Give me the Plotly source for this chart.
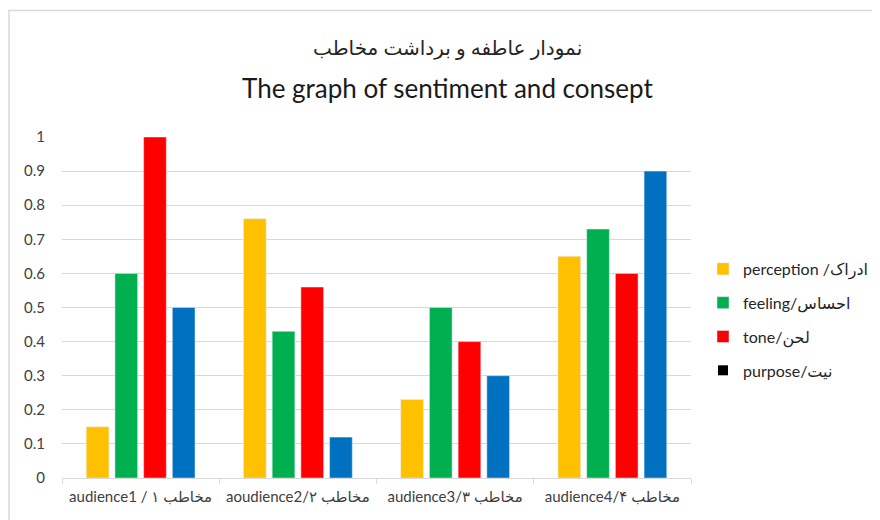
import plotly.graph_objects as go

categories = ["audience1 / مخاطب ۱", "aoudience2/مخاطب ۲", "audience3/مخاطب ۳", "audience4/مخاطب ۴"]
series_names = ["perception /ادراک", "feeling/احساس", "tone/لحن", "purpose/نیت"]
perception = [0.15, 0.76, 0.23, 0.65]
feeling = [0.60, 0.43, 0.50, 0.73]
tone = [1.00, 0.56, 0.40, 0.60]
purpose = [0.50, 0.12, 0.30, 0.90]
colors = ["#FFC000", "#00B050", "#FF0000", "#0070C0"]
y_ticks = [0, 0.1, 0.2, 0.3, 0.4, 0.5, 0.6, 0.7, 0.8, 0.9, 1]
y_tick_labels = ["0", "0.1", "0.2", "0.3", "0.4", "0.5", "0.6", "0.7", "0.8", "0.9", "1"]
title_fa = "نمودار عاطفه و برداشت مخاطب"
title_en = "The graph of sentiment and consept"

FONT = "Lato, 'DejaVu Sans', sans-serif"

# the page body has an 8px margin; work in figure pixels (page px - 8)
OFF = 8
W, H = 880 - OFF, 520 - OFF
PL, PR, PT, PB = 62 - OFF, 694 - OFF, 137 - OFF, 478 - OFF
PW, PH = PR - PL, PB - PT


def px_x(x):
    return (x - OFF - PL) / PW


def px_y(y):
    return (PB - (y - OFF)) / PH


fig = go.Figure()
vals = [perception, feeling, tone, purpose]
for i, (name, v, c) in enumerate(zip(series_names, vals, colors)):
    fig.add_trace(go.Bar(
        x=categories, y=v, name=name, marker_color=c,
        showlegend=(i < 3), legendgroup=f"g{i}", legendrank=i + 1,
    ))
# legend entry for purpose shown in black, as in the reference
fig.add_trace(go.Scatter(
    x=[None], y=[None], mode="markers", name=series_names[3],
    marker=dict(symbol="square", size=10, color="#000000"),
    legendgroup="g3", legendrank=4, showlegend=True,
))

fig.update_layout(
    width=W, height=H,
    paper_bgcolor="white", plot_bgcolor="white",
    margin=dict(l=PL, r=W - PR, t=PT, b=H - PB),
    barmode="group", bargap=0.27, bargroupgap=0.21,
    font=dict(family=FONT, color="#404040", size=15),
    legend=dict(
        xref="container", yref="container", x=(703 - OFF) / W, y=1 - (320 - OFF) / H,
        xanchor="left", yanchor="middle",
        font=dict(size=16, color="#262626"),
        traceorder="grouped", tracegroupgap=10,
        itemclick=False, bgcolor="rgba(0,0,0,0)",
    ),
    annotations=[
        dict(text=title_fa, xref="paper", yref="paper", x=px_x(449), y=px_y(47),
             showarrow=False, font=dict(size=20, color="#262626", family=FONT),
             xanchor="center", yanchor="middle"),
        dict(text=title_en, xref="paper", yref="paper", x=px_x(449), y=px_y(88),
             showarrow=False, font=dict(size=26, color="#1a1a1a", family=FONT),
             xanchor="center", yanchor="middle"),
    ],
    shapes=[
        dict(type="line", xref="paper", yref="paper",
             x0=px_x(8), x1=px_x(880), y0=px_y(10.5), y1=px_y(10.5),
             line=dict(color="#D9D9D9", width=1.5)),
        dict(type="line", xref="paper", yref="paper",
             x0=px_x(8.75), x1=px_x(8.75), y0=px_y(10), y1=px_y(520),
             line=dict(color="#D9D9D9", width=1.5)),
    ],
)
fig.update_xaxes(
    type="category", tickson="boundaries", ticks="outside", ticklen=5,
    tickcolor="#D9D9D9", showline=True, linecolor="#D9D9D9", linewidth=1,
    showgrid=False, tickfont=dict(size=15, color="#404040"), ticklabelstandoff=5,
)
fig.update_yaxes(
    range=[0, 1], tickvals=y_ticks, ticktext=y_tick_labels,
    showgrid=True, gridcolor="#D9D9D9", gridwidth=1, zeroline=False,
    showline=False, ticks="", tickfont=dict(size=15, color="#404040"), ticklabelstandoff=16,
)

fig.write_html("out.html")
